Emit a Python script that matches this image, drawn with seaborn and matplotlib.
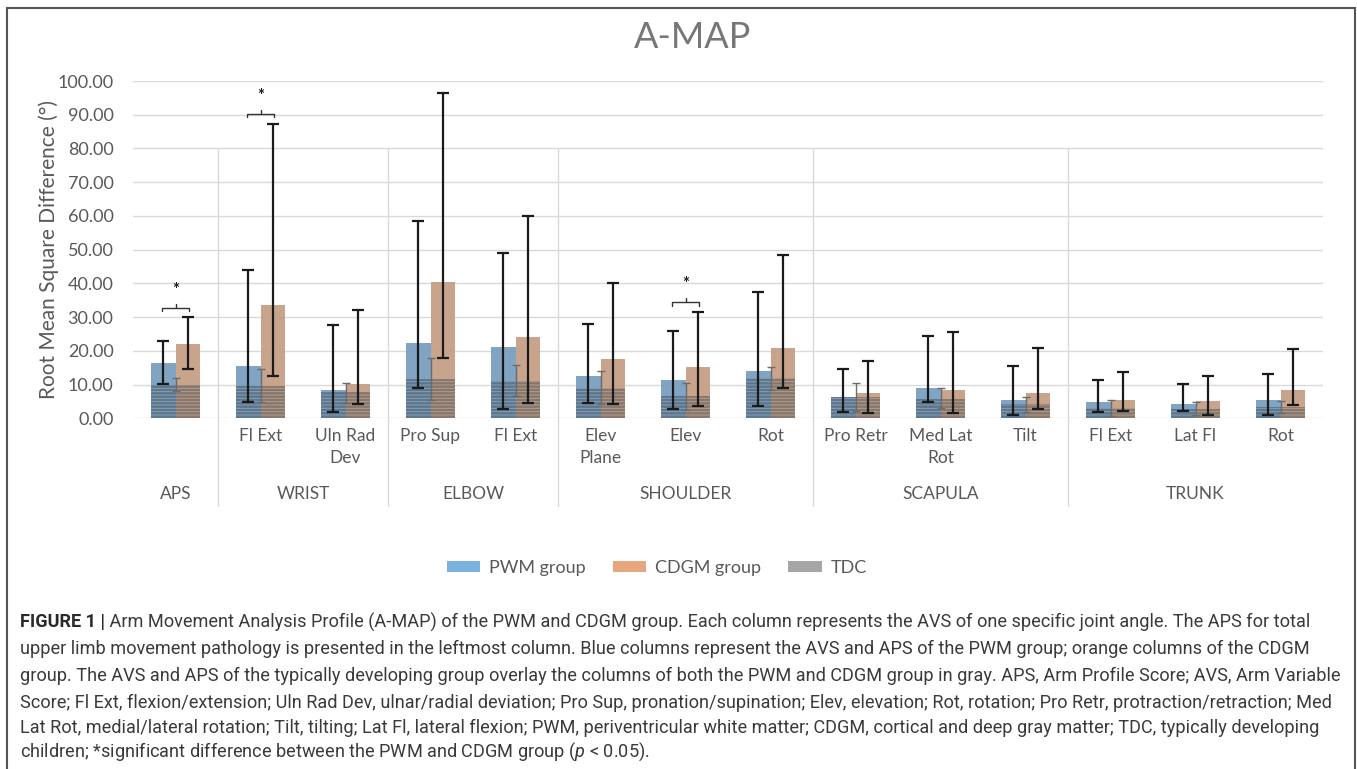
import numpy as np
import pandas as pd
import matplotlib.pyplot as plt
import matplotlib.transforms as mtransforms
from matplotlib.patches import Patch, Rectangle
import seaborn as sns

# ===============================
# Data
# ===============================
joint_labels = ["", "Fl Ext", "Uln Rad\nDev", "Pro Sup", "Fl Ext", "Elev\nPlane", "Elev", "Rot",
                "Pro Retr", "Med Lat\nRot", "Tilt", "Fl Ext", "Lat Fl", "Rot"]
region_names = ["APS", "WRIST", "ELBOW", "SHOULDER", "SCAPULA", "TRUNK"]
region_sizes = [1, 2, 2, 3, 3, 3]

pwm_mean = [16.5, 15.5, 8.3, 22.3, 21.1, 12.5, 11.4, 13.9, 6.4, 9.1, 5.4, 4.7, 4.1, 5.4]
pwm_low = [10.1, 4.7, 1.9, 9.0, 2.8, 4.4, 2.9, 3.6, 2.0, 4.7, 1.0, 2.0, 2.3, 1.1]
pwm_high = [22.9, 43.9, 27.6, 58.5, 49.1, 27.9, 25.8, 37.3, 14.7, 24.5, 15.5, 11.4, 10.3, 13.2]

cdgm_mean = [22.1, 33.5, 10.1, 40.3, 24.0, 17.5, 15.3, 20.7, 7.4, 8.4, 7.4, 5.4, 5.2, 8.5]
cdgm_low = [14.5, 12.6, 4.2, 17.9, 4.4, 4.3, 3.7, 9.1, 1.7, 1.7, 2.7, 2.2, 1.0, 3.9]
cdgm_high = [29.9, 87.3, 32.2, 96.4, 60.0, 40.2, 31.5, 48.5, 17.1, 25.5, 20.7, 13.6, 12.5, 20.4]

tdc_mean = [9.9, 9.6, 7.7, 11.7, 11.2, 9.1, 6.5, 11.9, 6.4, 5.8, 4.1, 3.0, 2.9, 3.3]
tdc_low = [8.1, 4.7, 4.5, 5.4, 6.6, 4.2, 2.5, 8.4, 2.2, 3.0, 2.0, 0.7, 1.0, 1.5]
tdc_high = [11.9, 14.7, 10.6, 17.9, 15.7, 14.1, 10.6, 15.3, 10.6, 8.9, 6.3, 5.4, 4.8, 5.0]

sig_index = [0, 1, 6]
sig_level = [32.8, 90.2, 34.4]

caption_lines = [
    " Arm Movement Analysis Profile (A-MAP) of the PWM and CDGM group. Each column represents the AVS of one specific joint angle. The APS for total",
    "upper limb movement pathology is presented in the leftmost column. Blue columns represent the AVS and APS of the PWM group; orange columns of the CDGM",
    "group. The AVS and APS of the typically developing group overlay the columns of both the PWM and CDGM group in gray. APS, Arm Profile Score; AVS, Arm Variable",
    "Score; Fl Ext, flexion/extension; Uln Rad Dev, ulnar/radial deviation; Pro Sup, pronation/supination; Elev, elevation; Rot, rotation; Pro Retr, protraction/retraction; Med",
    "Lat Rot, medial/lateral rotation; Tilt, tilting; Lat Fl, lateral flexion; PWM, periventricular white matter; CDGM, cortical and deep gray matter; TDC, typically developing",
    "children; *significant difference between the PWM and CDGM group ($p$ < 0.05).",
]

# ===============================
# Style
# ===============================
sns.set_style("white")
plt.rcParams['font.family'] = ['Lato', 'DejaVu Sans']
plt.rcParams['hatch.linewidth'] = 0.6
plt.rcParams['hatch.color'] = '#16212b'
plt.rcParams['mathtext.fontset'] = 'custom'
plt.rcParams['mathtext.it'] = 'Roboto:italic'
plt.rcParams['mathtext.rm'] = 'Roboto'

txt_gray = "#595959"
pwm_col = "#7a9fc0"
cdgm_col = "#c49f85"

keys = [f"c{i}" for i in range(len(joint_labels))]
n = len(keys)

df = pd.DataFrame({
    "joint": keys * 2,
    "group": ["PWM group"] * n + ["CDGM group"] * n,
    "value": pwm_mean + cdgm_mean,
})
df_tdc = pd.DataFrame({"joint": keys, "value": tdc_mean})

fig = plt.figure(figsize=(13.57, 7.69), dpi=100)
ax = fig.add_axes([133 / 1357, 1 - 418.3 / 769, 1190 / 1357, 337.3 / 769])

ax.set_axisbelow(True)
ax.yaxis.grid(True, color="#d9d9d9", lw=1)

sns.barplot(data=df, x="joint", y="value", hue="group", order=keys,
            hue_order=["PWM group", "CDGM group"], palette=[pwm_col, cdgm_col],
            width=0.57, errorbar=None, saturation=1, alpha=0.95, linewidth=0,
            legend=False, ax=ax)

# TDC overlay (gray, striped)
sns.barplot(data=df_tdc, x="joint", y="value", order=keys, color="#0f1a26",
            width=0.57, errorbar=None, saturation=1, alpha=0.32, linewidth=0,
            hatch="-----", ax=ax)

xpos = np.arange(n)
off = 0.57 / 4
ax.errorbar(xpos - off, pwm_mean,
            yerr=[np.array(pwm_mean) - np.array(pwm_low), np.array(pwm_high) - np.array(pwm_mean)],
            fmt="none", ecolor="#1a1a1a", elinewidth=1.6, capsize=4, capthick=1.6, zorder=5)
ax.errorbar(xpos + off, cdgm_mean,
            yerr=[np.array(cdgm_mean) - np.array(cdgm_low), np.array(cdgm_high) - np.array(cdgm_mean)],
            fmt="none", ecolor="#1a1a1a", elinewidth=1.6, capsize=4, capthick=1.6, zorder=5)
ax.errorbar(xpos, tdc_mean,
            yerr=[np.array(tdc_mean) - np.array(tdc_low), np.array(tdc_high) - np.array(tdc_mean)],
            fmt="none", ecolor="#6b6b6b", elinewidth=1.0, capsize=3, capthick=1.0, zorder=4)

# significance brackets
for i, lvl in zip(sig_index, sig_level):
    x0, x1 = i - off - 0.02, i + off + 0.02
    ax.plot([x0, x0, x1, x1], [lvl - 1.0, lvl, lvl, lvl - 1.0], color="#333333", lw=1, zorder=6)
    ax.plot([i, i], [lvl, lvl + 1.2], color="#333333", lw=1, zorder=6)
    ax.text(i, lvl + 3.0, "*", ha="center", va="bottom", fontsize=12, fontweight="bold", color="#1a1a1a")

ax.set_ylim(0, 100)
ax.set_xlim(-0.5, n - 0.5)
ax.set_yticks(np.arange(0, 101, 10))
ax.set_yticklabels([f"{v:.2f}" for v in np.arange(0, 101, 10)], fontsize=13, color=txt_gray)
ax.set_xticks(xpos)
ax.set_xticklabels(joint_labels, fontsize=12.5, color=txt_gray, linespacing=1.45)
ax.tick_params(axis="both", length=0)
ax.tick_params(axis="x", pad=7)
ax.tick_params(axis="y", pad=14)
ax.set_xlabel("")
ax.set_ylabel("Root Mean Square Difference (°)", fontsize=15, color=txt_gray, labelpad=-1)
for s in ax.spines.values():
    s.set_visible(False)

# region separators and labels
trans = mtransforms.blended_transform_factory(ax.transData, ax.transAxes)
edges = np.cumsum(region_sizes)
for b in edges[:-1]:
    ax.plot([b - 0.5, b - 0.5], [0.8, -0.26], transform=trans, color="#d9d9d9", lw=1, clip_on=False)
start = 0
for name, size in zip(region_names, region_sizes):
    ax.text(start + (size - 1) / 2, -0.224, name, transform=trans, ha="center", va="center",
            fontsize=12.5, color=txt_gray)
    start += size

fig.text(693 / 1357, 1 - 38 / 769, "A-MAP", ha="center", va="center", fontsize=26, color="#777777")

handles = [Patch(facecolor="#7eb2de", edgecolor="none", label="PWM group"),
           Patch(facecolor="#e6a77f", edgecolor="none", label="CDGM group"),
           Patch(facecolor="#a6a6a6", edgecolor="none", hatch="-----", label="TDC")]
fig.legend(handles=handles, loc="center", bbox_to_anchor=(657 / 1357, 1 - 568 / 769), ncol=3,
           frameon=False, fontsize=13, handlelength=1.85, handleheight=0.6, handletextpad=0.5,
           columnspacing=1.5, labelcolor=txt_gray)

# caption
cap_col = "#3a3a3a"
cap_fam = ["Roboto", "DejaVu Sans"]
renderer = fig.canvas.get_renderer()
probe = fig.text(0, 0, caption_lines[2], fontsize=12, family=cap_fam)
w = probe.get_window_extent(renderer).width
probe.remove()
cap_fs = 12 * 1316 / w

ys = [622, 649, 676, 703, 728, 752]
head = fig.text(20 / 1357, 1 - ys[0] / 769, "FIGURE 1 |", fontsize=cap_fs, family=cap_fam,
                fontweight="bold", color="#2a2a2a", va="center")
hw = head.get_window_extent(renderer).width
fig.text((20 + hw) / 1357, 1 - ys[0] / 769, caption_lines[0], fontsize=cap_fs, family=cap_fam,
         color=cap_col, va="center")
for line, y in zip(caption_lines[1:], ys[1:]):
    fig.text(20 / 1357, 1 - y / 769, line, fontsize=cap_fs, family=cap_fam,
             color=cap_col, va="center")

# frame around the figure
fig.patches.append(Rectangle((7 / 1357, -0.02), 1348 / 1357, 1 - 8 / 769 + 0.02,
                             transform=fig.transFigure, fill=False, edgecolor="#555555", lw=1.5))

fig.savefig("out.png", dpi=100)
